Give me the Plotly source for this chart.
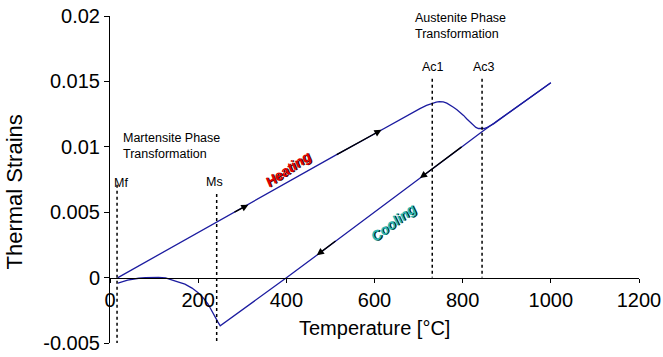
import plotly.graph_objects as go

# Dilatometry curve of a steel: thermal strain vs temperature
heat_T = [18, 100, 243, 273, 314, 420, 511, 575, 616, 658, 681, 703, 718, 730,
          740, 747, 756, 764, 772, 779, 787, 794, 802, 809, 815, 820, 825, 830,
          836, 843, 849, 854, 862, 870, 880, 900, 950, 990, 1000]
heat_eps = [0.0, 0.00156, 0.00427, 0.00484, 0.00557, 0.0076, 0.00934,
            0.01052, 0.0113, 0.01211, 0.01253, 0.01292, 0.01316, 0.01332,
            0.01341, 0.01345, 0.01343, 0.01334, 0.0132, 0.01303, 0.01284,
            0.01265, 0.0124, 0.01215, 0.01195, 0.01177, 0.0116, 0.01148,
            0.0114, 0.01138, 0.0114, 0.01146, 0.01158, 0.01175, 0.0120,
            0.01248, 0.01368, 0.01466, 0.0149]

cool_T = [1000, 950, 900, 843, 800, 750, 703, 650, 609, 560, 522, 469, 401,
          340, 284, 250, 245, 240, 231, 222, 212, 200, 186, 170, 152, 140,
          126, 110, 96, 80, 65, 40, 18]
cool_eps = [0.0149, 0.01372, 0.01252, 0.01113, 0.01005, 0.0088, 0.00761,
            0.00627, 0.00524, 0.00401, 0.00305, 0.00171, 0.0, -0.0015,
            -0.0029, -0.00368, -0.0034, -0.0031, -0.00246, -0.0020, -0.00157,
            -0.00115, -0.0008, -0.0005, -0.0003, -0.00015, -0.00003,
            0.00002, 0.00003, 0.0, -0.00005, -0.0002, -0.00043]

# Transformation temperatures and the extent of their marker lines
trans_names = ["Mf", "Ms", "Ac1", "Ac3"]
trans_T = [16, 242, 731, 844]
trans_top = [0.0071, 0.0064, 0.0152, 0.0152]
trans_bottom = [-0.005, -0.005, 0.0, 0.0]
trans_label_T = [26, 238, 732, 848]
trans_label_eps = [0.00724, 0.00732, 0.01608, 0.01608]

# Direction arrows along the curves: (tail T, tail eps, head T, head eps)
arrows = [
    (279, 0.00495, 314, 0.00557),
    (511, 0.00934, 616, 0.0113),
    (801, 0.01008, 703, 0.00761),
    (515, 0.00288, 469, 0.00171),
]

x_ticks = [0, 200, 400, 600, 800, 1000, 1200]
y_ticks = [-0.005, 0, 0.005, 0.01, 0.015, 0.02]
y_tick_text = ["-0.005", "0", "0.005", "0.01", "0.015", "0.02"]

FONT = "Arial, Liberation Sans, sans-serif"
CURVE = "#1c1ca0"

fig = go.Figure()

fig.add_trace(go.Scatter(x=heat_T, y=heat_eps, mode="lines",
                         line=dict(color=CURVE, width=1.3),
                         name="Heating", showlegend=False))
fig.add_trace(go.Scatter(x=cool_T, y=cool_eps, mode="lines",
                         line=dict(color=CURVE, width=1.3),
                         name="Cooling", showlegend=False))

for T, top, bot in zip(trans_T, trans_top, trans_bottom):
    fig.add_trace(go.Scatter(x=[T, T], y=[top, bot], mode="lines",
                             line=dict(color="black", width=1.5, dash="dot"),
                             showlegend=False, hoverinfo="skip"))

annotations = []
for name, lx, ly in zip(trans_names, trans_label_T, trans_label_eps):
    annotations.append(dict(x=lx, y=ly, xref="x", yref="y", text=name,
                            showarrow=False,
                            font=dict(family=FONT, size=12.5, color="black")))

annotations.append(dict(x=25, y=0.01009, xref="x", yref="y",
                        text="Martensite Phase<br>Transformation",
                        xanchor="left", align="left", showarrow=False,
                        font=dict(family=FONT, size=12.5, color="black")))
annotations.append(dict(x=687, y=0.01926, xref="x", yref="y",
                        text="Austenite Phase<br>Transformation",
                        xanchor="left", align="left", showarrow=False,
                        font=dict(family=FONT, size=12.5, color="black")))

for tx, ty, hx, hy in arrows:
    annotations.append(dict(x=hx, y=hy, ax=tx, ay=ty, xref="x", yref="y",
                            axref="x", ayref="y", text="", showarrow=True,
                            arrowhead=2, arrowsize=1.1, arrowwidth=1.3,
                            arrowcolor="black", standoff=0, startstandoff=0))

annotations.append(dict(x=403, y=0.00834, xref="x", yref="y", text="Heating",
                        textangle=-34, showarrow=False,
                        font=dict(family=FONT, size=14, color="#e00000",
                                  weight="bold", style="italic",
                                  shadow="1px 1px 0px #300000")))
annotations.append(dict(x=644, y=0.00424, xref="x", yref="y", text="Cooling",
                        textangle=-37, showarrow=False,
                        font=dict(family=FONT, size=14, color="#2ab8b8",
                                  weight="bold", style="italic",
                                  shadow="1px 1px 0px #003030")))

# Axis titles
annotations.append(dict(x=0.5, y=0, xref="paper", yref="paper",
                        text="Temperature [°C]", showarrow=False,
                        xanchor="center", yanchor="middle", yshift=15,
                        font=dict(family=FONT, size=20, color="black")))
annotations.append(dict(x=0, y=0.5, xref="paper", yref="paper",
                        text="Thermal Strains", showarrow=False, textangle=-90,
                        xanchor="center", yanchor="middle", xshift=-96,
                        yshift=-13,
                        font=dict(family=FONT, size=22, color="black")))

fig.update_layout(
    width=663, height=357,
    margin=dict(l=110, r=24, t=16, b=14, pad=0),
    paper_bgcolor="white", plot_bgcolor="white",
    font=dict(family=FONT, size=20, color="black"),
    annotations=annotations,
    xaxis=dict(range=[0, 1200], tickvals=x_ticks, ticks="outside", ticklen=4,
               tickwidth=1, tickcolor="black", showline=True,
               linecolor="black", linewidth=1, showgrid=False, zeroline=False,
               anchor="free", position=0.2, automargin=False,
               tickfont=dict(family=FONT, size=20)),
    yaxis=dict(range=[-0.005, 0.02], tickvals=y_ticks, ticktext=y_tick_text,
               ticks="outside", ticklen=5, tickwidth=1, tickcolor="black",
               showline=True, linecolor="black", linewidth=1, showgrid=False,
               zeroline=False, automargin=False,
               tickfont=dict(family=FONT, size=20)),
)

fig.write_html("out.html")
